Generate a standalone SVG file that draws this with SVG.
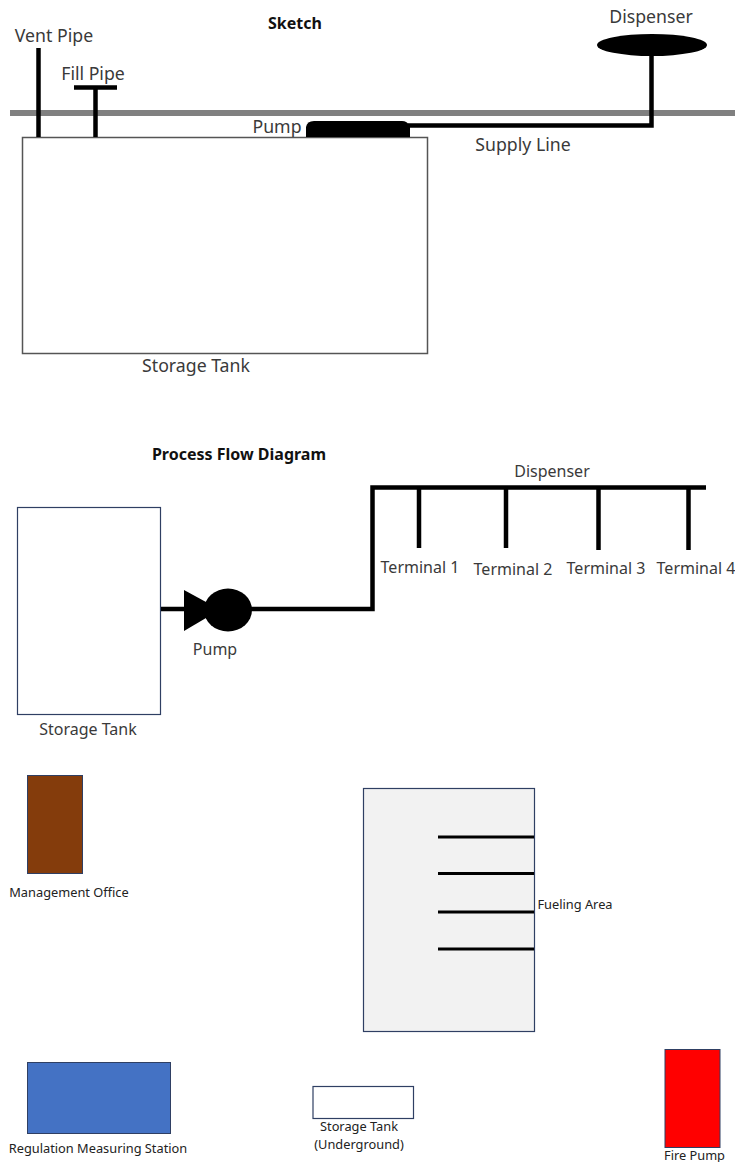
<svg xmlns="http://www.w3.org/2000/svg" width="735" height="1162" viewBox="0 0 735 1162">
<style>
text{font-family:"Noto Sans",Lato,sans-serif;fill:#3a3a3a}
.l{font-size:16px}
.k{font-size:17.700px}
.s{font-size:12.800px;fill:#222}
.b{font-size:16px;font-weight:700;fill:#111}
.p{stroke:#000;stroke-width:4.500;fill:none;stroke-linejoin:miter}
.t{fill:#fff;stroke:#2f3f63;stroke-width:1.200}
</style>
<rect width="735" height="1162" fill="#fff"/>
<g id="ground"><rect x="10" y="110" width="725" height="6" fill="#808080"/></g>
<g id="sketch-tank"><rect x="22.500" y="137.500" width="405" height="216" fill="#fff" stroke="#555" stroke-width="1.500"/><text class="k" x="196" y="372" text-anchor="middle">Storage Tank</text></g>
<g id="sketch-title"><text class="b" x="295" y="29" text-anchor="middle">Sketch</text></g>
<g id="vent-pipe"><text class="k" x="54" y="42" text-anchor="middle">Vent Pipe</text></g>
<g id="fill-pipe"><text class="k" x="93" y="80" text-anchor="middle">Fill Pipe</text></g>
<g id="sketch-pump"><path d="M306 137V127Q307 121 314 121H402Q407 121 410 126V137Z" fill="#000"/><text class="k" x="277" y="133" text-anchor="middle">Pump</text></g>
<g id="sketch-dispenser"><ellipse cx="652" cy="45" rx="55" ry="11" fill="#000"/><text class="k" x="651" y="23" text-anchor="middle">Dispenser</text></g>
<g id="supply-line-label"><text class="k" x="523" y="151" text-anchor="middle">Supply Line</text></g>
<g id="flow-title"><text class="b" x="239" y="460" text-anchor="middle">Process Flow Diagram</text></g>
<g id="flow-tank"><rect class="t" x="17.500" y="507.500" width="143" height="207"/><text class="l" x="88" y="735" text-anchor="middle">Storage Tank</text></g>
<g id="flow-pump"><path d="M184 590L206 602V618L184 631Z" fill="#000"/><ellipse cx="228" cy="610" rx="24" ry="21.500" fill="#000"/><text class="l" x="215" y="655" text-anchor="middle">Pump</text></g>
<g id="flow-dispenser"><text class="l" x="552" y="477" text-anchor="middle">Dispenser</text></g>
<g id="terminal-1"><text class="l" x="420" y="573" text-anchor="middle">Terminal 1</text></g>
<g id="terminal-2"><text class="l" x="513" y="575" text-anchor="middle">Terminal 2</text></g>
<g id="terminal-3"><text class="l" x="606" y="574" text-anchor="middle">Terminal 3</text></g>
<g id="terminal-4"><text class="l" x="696" y="574" text-anchor="middle">Terminal 4</text></g>
<g id="management-office"><rect x="27.500" y="775.500" width="55" height="98" fill="#843c0c" stroke="#2f3f63"/><text class="s" x="69" y="897" text-anchor="middle">Management Office</text></g>
<g id="fueling-area"><rect x="363.500" y="788.500" width="171" height="243" fill="#f2f2f2" stroke="#2f3f63" stroke-width="1.200"/><text class="s" x="575" y="909" text-anchor="middle">Fueling Area</text></g>
<g id="regulation-station"><rect x="27.500" y="1062.500" width="143" height="71" fill="#4472c4" stroke="#2f3f63"/><text class="s" x="98" y="1153" text-anchor="middle">Regulation Measuring Station</text></g>
<g id="underground-tank"><rect class="t" x="313" y="1086.500" width="100.500" height="32"/><text class="s" x="359" y="1131" text-anchor="middle">Storage Tank</text><text class="s" x="359" y="1149" text-anchor="middle">(Underground)</text></g>
<g id="fire-pump"><rect x="665" y="1049.500" width="55" height="98" fill="#f00" stroke="#2f3f63"/><text class="s" x="694.500" y="1160" text-anchor="middle">Fire Pump</text></g>
<g id="connectors">
<path class="p" d="M38.500 48V137"/>
<path class="p" d="M95.500 87V137M74 87.500H117"/>
<path class="p" d="M408 125.500H651.500V54"/>
<path class="p" d="M161 609H186M250 609H372.500V487.500H706"/>
<path class="p" d="M419 488V548M506 488V548M598.500 488V550M688.500 488V550"/>
<path class="p" style="stroke-width:3" d="M438 837H534M438 873.500H534M438 912H534M438 949H534"/>
</g>
</svg>
